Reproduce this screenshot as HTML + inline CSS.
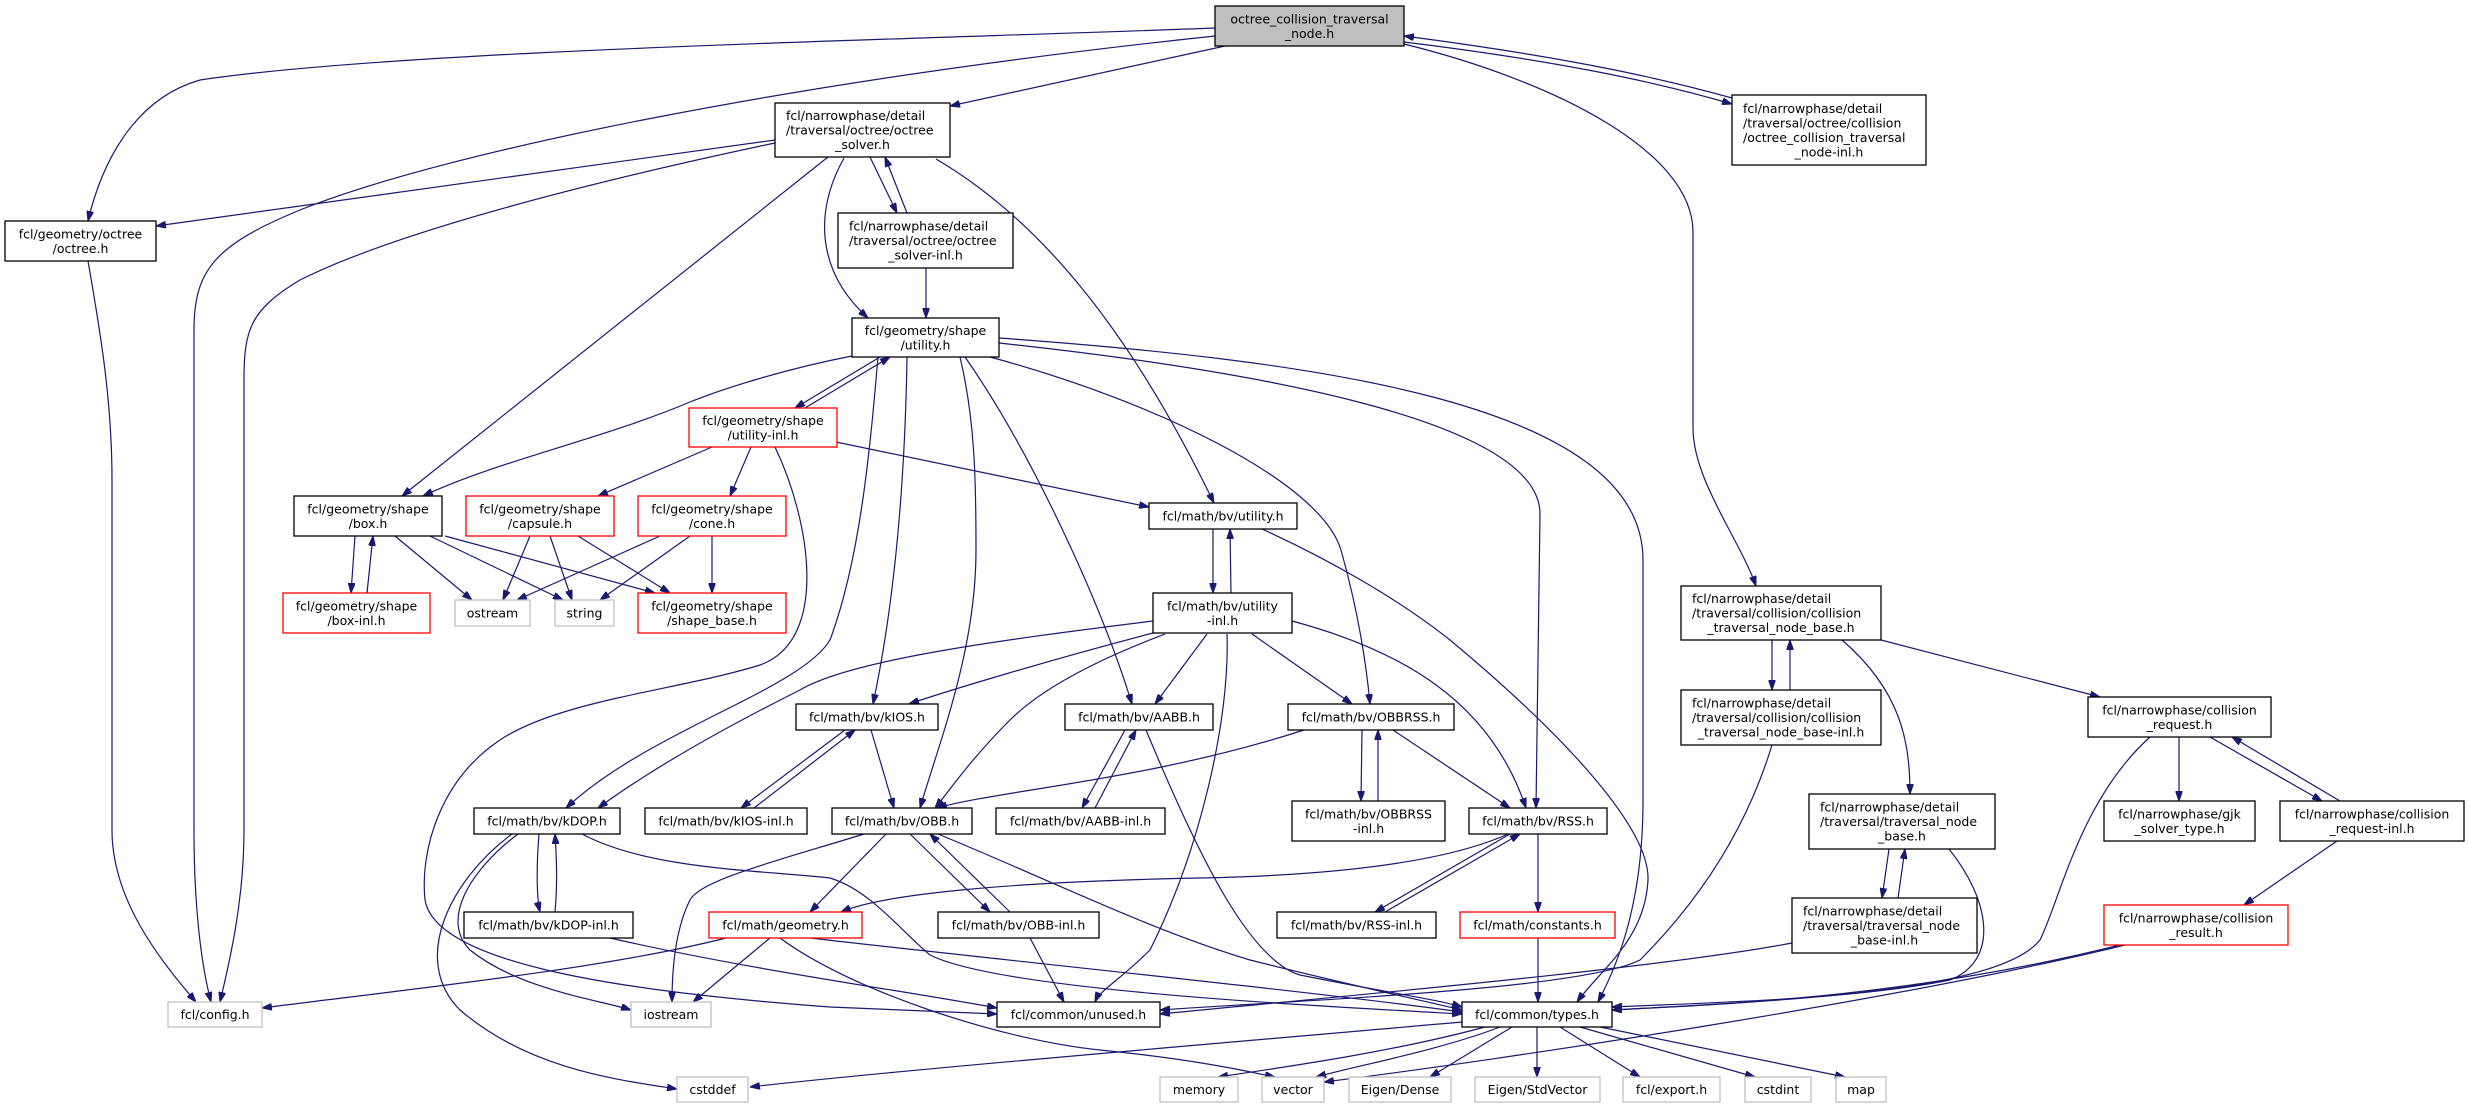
<!DOCTYPE html>
<html><head><meta charset="utf-8"><style>
html,body{margin:0;padding:0;background:#fff;}
svg{display:block;}
text{font-family:"DejaVu Sans","Liberation Sans",sans-serif;font-size:12.5px;fill:#000;}
.e{fill:none;stroke:#191970;stroke-width:1.2;marker-end:url(#a);}
.n{fill:#fff;stroke:#000;stroke-width:1.3;}
.r{fill:#fff;stroke:#ff0000;stroke-width:1.3;}
.g{fill:#fff;stroke:#bfbfbf;stroke-width:1.3;}
.c{text-anchor:middle;}
</style></head><body>
<svg width="2469" height="1108" viewBox="0 0 2469 1108" xmlns="http://www.w3.org/2000/svg">
<defs><marker id="a" viewBox="0 0 10 7" refX="10" refY="3.5" markerWidth="10" markerHeight="7" markerUnits="userSpaceOnUse" orient="auto"><path d="M0,0 L10,3.5 L0,7 z" fill="#191970" stroke="#191970"/></marker></defs>

<!-- edges -->
<path class="e" d="M1215,28 C900,40 400,50 200,80 C130,100 100,170 88,221"/>
<path class="e" d="M1215,36 C800,80 450,150 300,210 C215,245 194,270 194,330 L194,830 C194,900 200,960 211,1002"/>
<path class="e" d="M88,261 C100,330 112,400 112,480 L112,830 C112,900 160,960 196,1002"/>
<path class="e" d="M1225,46 L950,106"/>
<path class="e" d="M1404,42 C1550,60 1650,80 1732,104"/>
<path class="e" d="M1732,98 C1650,75 1550,55 1404,36"/>
<path class="e" d="M1404,44 C1550,80 1693,150 1693,232 L1693,428 C1693,480 1740,540 1756,586"/>
<path class="e" d="M775,140 L156,226"/>
<path class="e" d="M775,143 C600,180 400,230 300,280 C250,310 244,330 244,380 L244,830 C244,900 230,960 220,1002"/>
<path class="e" d="M828,157 L402,496"/>
<path class="e" d="M870,157 L897,213"/>
<path class="e" d="M907,213 L885,157"/>
<path class="e" d="M844,158 C815,210 815,270 868,318"/>
<path class="e" d="M936,159 C1040,220 1130,330 1214,503"/>
<path class="e" d="M926,268 L926,318"/>
<path class="e" d="M880,357 L795,408"/>
<path class="e" d="M805,408 L890,357"/>
<path class="e" d="M852,356 C780,370 720,390 690,402 C600,440 500,460 423,496"/>
<path class="e" d="M878,357 C870,450 860,560 830,640 C800,690 650,730 566,808"/>
<path class="e" d="M1153,621 C1000,640 850,660 800,690 C720,730 650,770 598,808"/>
<path class="e" d="M907,357 C905,480 895,600 873,704"/>
<path class="e" d="M960,357 C975,420 976,480 976,550 C976,650 940,740 920,808"/>
<path class="e" d="M965,357 C1030,450 1100,600 1132,704"/>
<path class="e" d="M990,357 C1150,400 1320,480 1341,550 C1355,600 1365,650 1370,704"/>
<path class="e" d="M999,343 C1250,370 1540,420 1540,514 L1536,808"/>
<path class="e" d="M999,338 C1300,360 1643,400 1643,560 L1643,800 C1643,900 1620,960 1598,1002"/>
<path class="e" d="M712,447 L598,496"/>
<path class="e" d="M751,447 L730,496"/>
<path class="e" d="M836,442 L1149,507"/>
<path class="e" d="M775,447 C810,520 830,640 760,665 C680,690 560,700 500,740 C440,780 420,850 425,900 C435,960 600,990 830,1007 L997,1014"/>
<path class="e" d="M355,536 L351,593"/>
<path class="e" d="M367,593 L373,536"/>
<path class="e" d="M395,536 L472,600"/>
<path class="e" d="M430,536 L563,600"/>
<path class="e" d="M445,536 L655,593"/>
<path class="e" d="M530,536 L503,600"/>
<path class="e" d="M550,536 L572,600"/>
<path class="e" d="M578,536 L670,593"/>
<path class="e" d="M660,536 L517,600"/>
<path class="e" d="M690,536 L600,600"/>
<path class="e" d="M712,536 L712,593"/>
<path class="e" d="M1213,529 L1213,593"/>
<path class="e" d="M1231,593 L1230,529"/>
<path class="e" d="M1262,529 C1330,560 1400,600 1450,640 C1570,740 1650,830 1648,880 C1645,940 1600,970 1577,1002"/>
<path class="e" d="M1153,633 C1050,660 950,690 909,704"/>
<path class="e" d="M1165,634 C1070,670 1030,700 1010,720 C970,760 950,790 935,808"/>
<path class="e" d="M1207,634 L1155,704"/>
<path class="e" d="M1252,634 L1352,704"/>
<path class="e" d="M1292,621 C1400,650 1490,700 1526,808"/>
<path class="e" d="M1227,634 C1230,720 1200,850 1150,950 C1120,980 1100,990 1095,1002"/>
<path class="e" d="M845,730 L741,808"/>
<path class="e" d="M754,808 L855,730"/>
<path class="e" d="M871,730 L894,808"/>
<path class="e" d="M1125,730 L1082,808"/>
<path class="e" d="M1095,808 L1136,730"/>
<path class="e" d="M1146,730 C1200,860 1250,960 1300,975 C1400,995 1440,1000 1462,1007"/>
<path class="e" d="M1362,730 L1361,801"/>
<path class="e" d="M1378,801 L1378,730"/>
<path class="e" d="M1304,730 C1150,780 1000,790 937,808"/>
<path class="e" d="M1393,730 L1510,808"/>
<path class="e" d="M1510,834 L1375,912"/>
<path class="e" d="M1385,912 L1520,834"/>
<path class="e" d="M1508,834 C1450,860 1350,875 1200,878 C1000,882 880,895 841,912"/>
<path class="e" d="M1538,834 L1538,912"/>
<path class="e" d="M1538,938 L1538,1002"/>
<path class="e" d="M539,834 C536,870 537,900 540,912"/>
<path class="e" d="M555,912 C558,880 556,850 555,834"/>
<path class="e" d="M518,834 C470,870 440,920 470,950 C520,990 600,1000 631,1010"/>
<path class="e" d="M512,834 C450,880 410,960 460,1010 C530,1070 620,1080 677,1089"/>
<path class="e" d="M582,834 C650,870 760,870 830,878 C870,890 900,930 930,955 C1000,990 1300,1005 1462,1014"/>
<path class="e" d="M910,834 L990,912"/>
<path class="e" d="M1010,912 L930,834"/>
<path class="e" d="M886,834 L810,912"/>
<path class="e" d="M864,834 C780,860 700,880 690,900 C675,930 672,970 672,1002"/>
<path class="e" d="M938,834 C1050,880 1150,930 1250,960 C1350,985 1420,1000 1462,1010"/>
<path class="e" d="M610,938 C750,970 900,990 997,1008"/>
<path class="e" d="M726,938 C600,970 400,990 262,1008"/>
<path class="e" d="M770,938 L693,1002"/>
<path class="e" d="M780,938 C850,990 1000,1040 1100,1050 C1200,1060 1250,1072 1275,1077"/>
<path class="e" d="M810,938 C1000,960 1300,990 1462,1012"/>
<path class="e" d="M1030,938 L1064,1002"/>
<path class="e" d="M1485,1027 C1400,1050 1300,1065 1218,1077"/>
<path class="e" d="M1500,1027 C1440,1050 1360,1065 1316,1077"/>
<path class="e" d="M1512,1027 L1430,1077"/>
<path class="e" d="M1537,1027 L1537,1077"/>
<path class="e" d="M1560,1027 L1640,1077"/>
<path class="e" d="M1580,1027 L1755,1077"/>
<path class="e" d="M1600,1027 L1845,1077"/>
<path class="e" d="M1462,1022 C1200,1045 900,1070 750,1087"/>
<path class="e" d="M2125,945 C1900,1000 1500,1060 1324,1082"/>
<path class="e" d="M2120,945 C1900,1000 1700,1005 1612,1010"/>
<path class="e" d="M1772,640 L1772,690"/>
<path class="e" d="M1790,690 L1790,640"/>
<path class="e" d="M1842,640 C1900,690 1910,740 1910,794"/>
<path class="e" d="M1881,640 L2100,697"/>
<path class="e" d="M1772,745 C1740,850 1680,920 1640,960 C1580,990 1300,1000 1160,1010"/>
<path class="e" d="M1889,849 L1882,898"/>
<path class="e" d="M1898,898 L1905,849"/>
<path class="e" d="M1949,849 C1990,900 2000,960 1950,980 C1850,1000 1700,1003 1612,1007"/>
<path class="e" d="M1792,943 C1650,970 1300,1000 1160,1014"/>
<path class="e" d="M2179,737 L2179,801"/>
<path class="e" d="M2210,737 L2322,801"/>
<path class="e" d="M2340,801 L2232,737"/>
<path class="e" d="M2150,737 C2080,800 2060,900 2040,940 C2000,990 1800,1000 1612,1010"/>
<path class="e" d="M2337,841 L2244,905"/>

<!-- nodes -->
<rect x="1215" y="6" width="189" height="40" fill="#bfbfbf" stroke="#000" stroke-width="1.3"/>
<text class="c" x="1309.5" y="23.25">octree_collision_traversal</text><text class="c" x="1309.5" y="37.75">_node.h</text>

<rect class="n" x="5" y="221" width="151" height="40"/>
<text class="c" x="80.5" y="238.25">fcl/geometry/octree</text><text class="c" x="80.5" y="252.75">/octree.h</text>

<rect class="n" x="775" y="103" width="175" height="54"/>
<text x="786" y="120">fcl/narrowphase/detail</text><text x="786" y="134.5">/traversal/octree/octree</text><text class="c" x="862.5" y="149">_solver.h</text>

<rect class="n" x="1732" y="95" width="194" height="70"/>
<text x="1743" y="112.75">fcl/narrowphase/detail</text><text x="1743" y="127.25">/traversal/octree/collision</text><text x="1743" y="141.75">/octree_collision_traversal</text><text class="c" x="1829" y="156.25">_node-inl.h</text>

<rect class="n" x="838" y="213" width="175" height="55"/>
<text x="849" y="230.5">fcl/narrowphase/detail</text><text x="849" y="245">/traversal/octree/octree</text><text class="c" x="925.5" y="259.5">_solver-inl.h</text>

<rect class="n" x="852" y="318" width="147" height="39"/>
<text class="c" x="925.5" y="334.75">fcl/geometry/shape</text><text class="c" x="925.5" y="349.25">/utility.h</text>

<rect class="r" x="689" y="408" width="148" height="39"/>
<text class="c" x="763" y="424.75">fcl/geometry/shape</text><text class="c" x="763" y="439.25">/utility-inl.h</text>

<rect class="n" x="294" y="496" width="148" height="40"/>
<text class="c" x="368" y="513.25">fcl/geometry/shape</text><text class="c" x="368" y="527.75">/box.h</text>
<rect class="r" x="466" y="496" width="148" height="40"/>
<text class="c" x="540" y="513.25">fcl/geometry/shape</text><text class="c" x="540" y="527.75">/capsule.h</text>
<rect class="r" x="638" y="496" width="148" height="40"/>
<text class="c" x="712" y="513.25">fcl/geometry/shape</text><text class="c" x="712" y="527.75">/cone.h</text>

<rect class="n" x="1149" y="503" width="148" height="26"/>
<text class="c" x="1223" y="520.5">fcl/math/bv/utility.h</text>

<rect class="r" x="283" y="593" width="147" height="40"/>
<text class="c" x="356.5" y="610.25">fcl/geometry/shape</text><text class="c" x="356.5" y="624.75">/box-inl.h</text>
<rect class="g" x="455" y="600" width="75" height="26"/><text class="c" x="492.5" y="617.5">ostream</text>
<rect class="g" x="555" y="600" width="59" height="26"/><text class="c" x="584.5" y="617.5">string</text>
<rect class="r" x="638" y="593" width="148" height="40"/>
<text class="c" x="712" y="610.25">fcl/geometry/shape</text><text class="c" x="712" y="624.75">/shape_base.h</text>

<rect class="n" x="1153" y="593" width="139" height="40"/>
<text class="c" x="1222.5" y="610.25">fcl/math/bv/utility</text><text class="c" x="1222.5" y="624.75">-inl.h</text>

<rect class="n" x="796" y="704" width="142" height="26"/><text class="c" x="867" y="721.5">fcl/math/bv/kIOS.h</text>
<rect class="n" x="1065" y="704" width="148" height="26"/><text class="c" x="1139" y="721.5">fcl/math/bv/AABB.h</text>
<rect class="n" x="1288" y="704" width="166" height="26"/><text class="c" x="1371" y="721.5">fcl/math/bv/OBBRSS.h</text>

<rect class="n" x="1681" y="586" width="200" height="54"/>
<text x="1692" y="603">fcl/narrowphase/detail</text><text x="1692" y="617.5">/traversal/collision/collision</text><text class="c" x="1781" y="632">_traversal_node_base.h</text>
<rect class="n" x="1681" y="690" width="200" height="55"/>
<text x="1692" y="707.5">fcl/narrowphase/detail</text><text x="1692" y="722">/traversal/collision/collision</text><text class="c" x="1781" y="736.5">_traversal_node_base-inl.h</text>

<rect class="n" x="2088" y="697" width="183" height="40"/>
<text class="c" x="2179.5" y="714.25">fcl/narrowphase/collision</text><text class="c" x="2179.5" y="728.75">_request.h</text>

<rect class="n" x="474" y="808" width="146" height="26"/><text class="c" x="547" y="825.5">fcl/math/bv/kDOP.h</text>
<rect class="n" x="645" y="808" width="162" height="26"/><text class="c" x="726" y="825.5">fcl/math/bv/kIOS-inl.h</text>
<rect class="n" x="832" y="808" width="140" height="26"/><text class="c" x="902" y="825.5">fcl/math/bv/OBB.h</text>
<rect class="n" x="996" y="808" width="169" height="26"/><text class="c" x="1080.5" y="825.5">fcl/math/bv/AABB-inl.h</text>
<rect class="n" x="1292" y="801" width="153" height="40"/>
<text class="c" x="1368.5" y="818.25">fcl/math/bv/OBBRSS</text><text class="c" x="1368.5" y="832.75">-inl.h</text>
<rect class="n" x="1469" y="808" width="138" height="26"/><text class="c" x="1538" y="825.5">fcl/math/bv/RSS.h</text>

<rect class="n" x="1809" y="794" width="186" height="55"/>
<text x="1820" y="811.5">fcl/narrowphase/detail</text><text x="1820" y="826">/traversal/traversal_node</text><text class="c" x="1902" y="840.5">_base.h</text>

<rect class="n" x="2104" y="801" width="151" height="40"/>
<text class="c" x="2179.5" y="818.25">fcl/narrowphase/gjk</text><text class="c" x="2179.5" y="832.75">_solver_type.h</text>
<rect class="n" x="2280" y="801" width="184" height="40"/>
<text class="c" x="2372" y="818.25">fcl/narrowphase/collision</text><text class="c" x="2372" y="832.75">_request-inl.h</text>

<rect class="n" x="464" y="912" width="169" height="26"/><text class="c" x="548.5" y="929.5">fcl/math/bv/kDOP-inl.h</text>
<rect class="r" x="709" y="912" width="153" height="26"/><text class="c" x="785.5" y="929.5">fcl/math/geometry.h</text>
<rect class="n" x="938" y="912" width="161" height="26"/><text class="c" x="1018.5" y="929.5">fcl/math/bv/OBB-inl.h</text>
<rect class="n" x="1277" y="912" width="159" height="26"/><text class="c" x="1356.5" y="929.5">fcl/math/bv/RSS-inl.h</text>
<rect class="r" x="1460" y="912" width="155" height="26"/><text class="c" x="1537.5" y="929.5">fcl/math/constants.h</text>

<rect class="n" x="1792" y="898" width="185" height="55"/>
<text x="1803" y="915.5">fcl/narrowphase/detail</text><text x="1803" y="930">/traversal/traversal_node</text><text class="c" x="1884.5" y="944.5">_base-inl.h</text>

<rect class="r" x="2104" y="905" width="184" height="40"/>
<text class="c" x="2196" y="922.25">fcl/narrowphase/collision</text><text class="c" x="2196" y="936.75">_result.h</text>

<rect class="g" x="168" y="1002" width="94" height="25"/><text class="c" x="215" y="1019">fcl/config.h</text>
<rect class="g" x="631" y="1002" width="80" height="25"/><text class="c" x="671" y="1019">iostream</text>
<rect class="n" x="997" y="1002" width="163" height="25"/><text class="c" x="1078.5" y="1019">fcl/common/unused.h</text>
<rect class="n" x="1462" y="1002" width="150" height="25"/><text class="c" x="1537" y="1019">fcl/common/types.h</text>

<rect class="g" x="677" y="1077" width="71" height="25"/><text class="c" x="712.5" y="1094">cstddef</text>
<rect class="g" x="1160" y="1077" width="78" height="25"/><text class="c" x="1199" y="1094">memory</text>
<rect class="g" x="1262" y="1077" width="62" height="25"/><text class="c" x="1293" y="1094">vector</text>
<rect class="g" x="1349" y="1077" width="102" height="25"/><text class="c" x="1400" y="1094">Eigen/Dense</text>
<rect class="g" x="1475" y="1077" width="125" height="25"/><text class="c" x="1537.5" y="1094">Eigen/StdVector</text>
<rect class="g" x="1623" y="1077" width="97" height="25"/><text class="c" x="1671.5" y="1094">fcl/export.h</text>
<rect class="g" x="1745" y="1077" width="66" height="25"/><text class="c" x="1778" y="1094">cstdint</text>
<rect class="g" x="1836" y="1077" width="50" height="25"/><text class="c" x="1861" y="1094">map</text>
</svg>
</body></html>
